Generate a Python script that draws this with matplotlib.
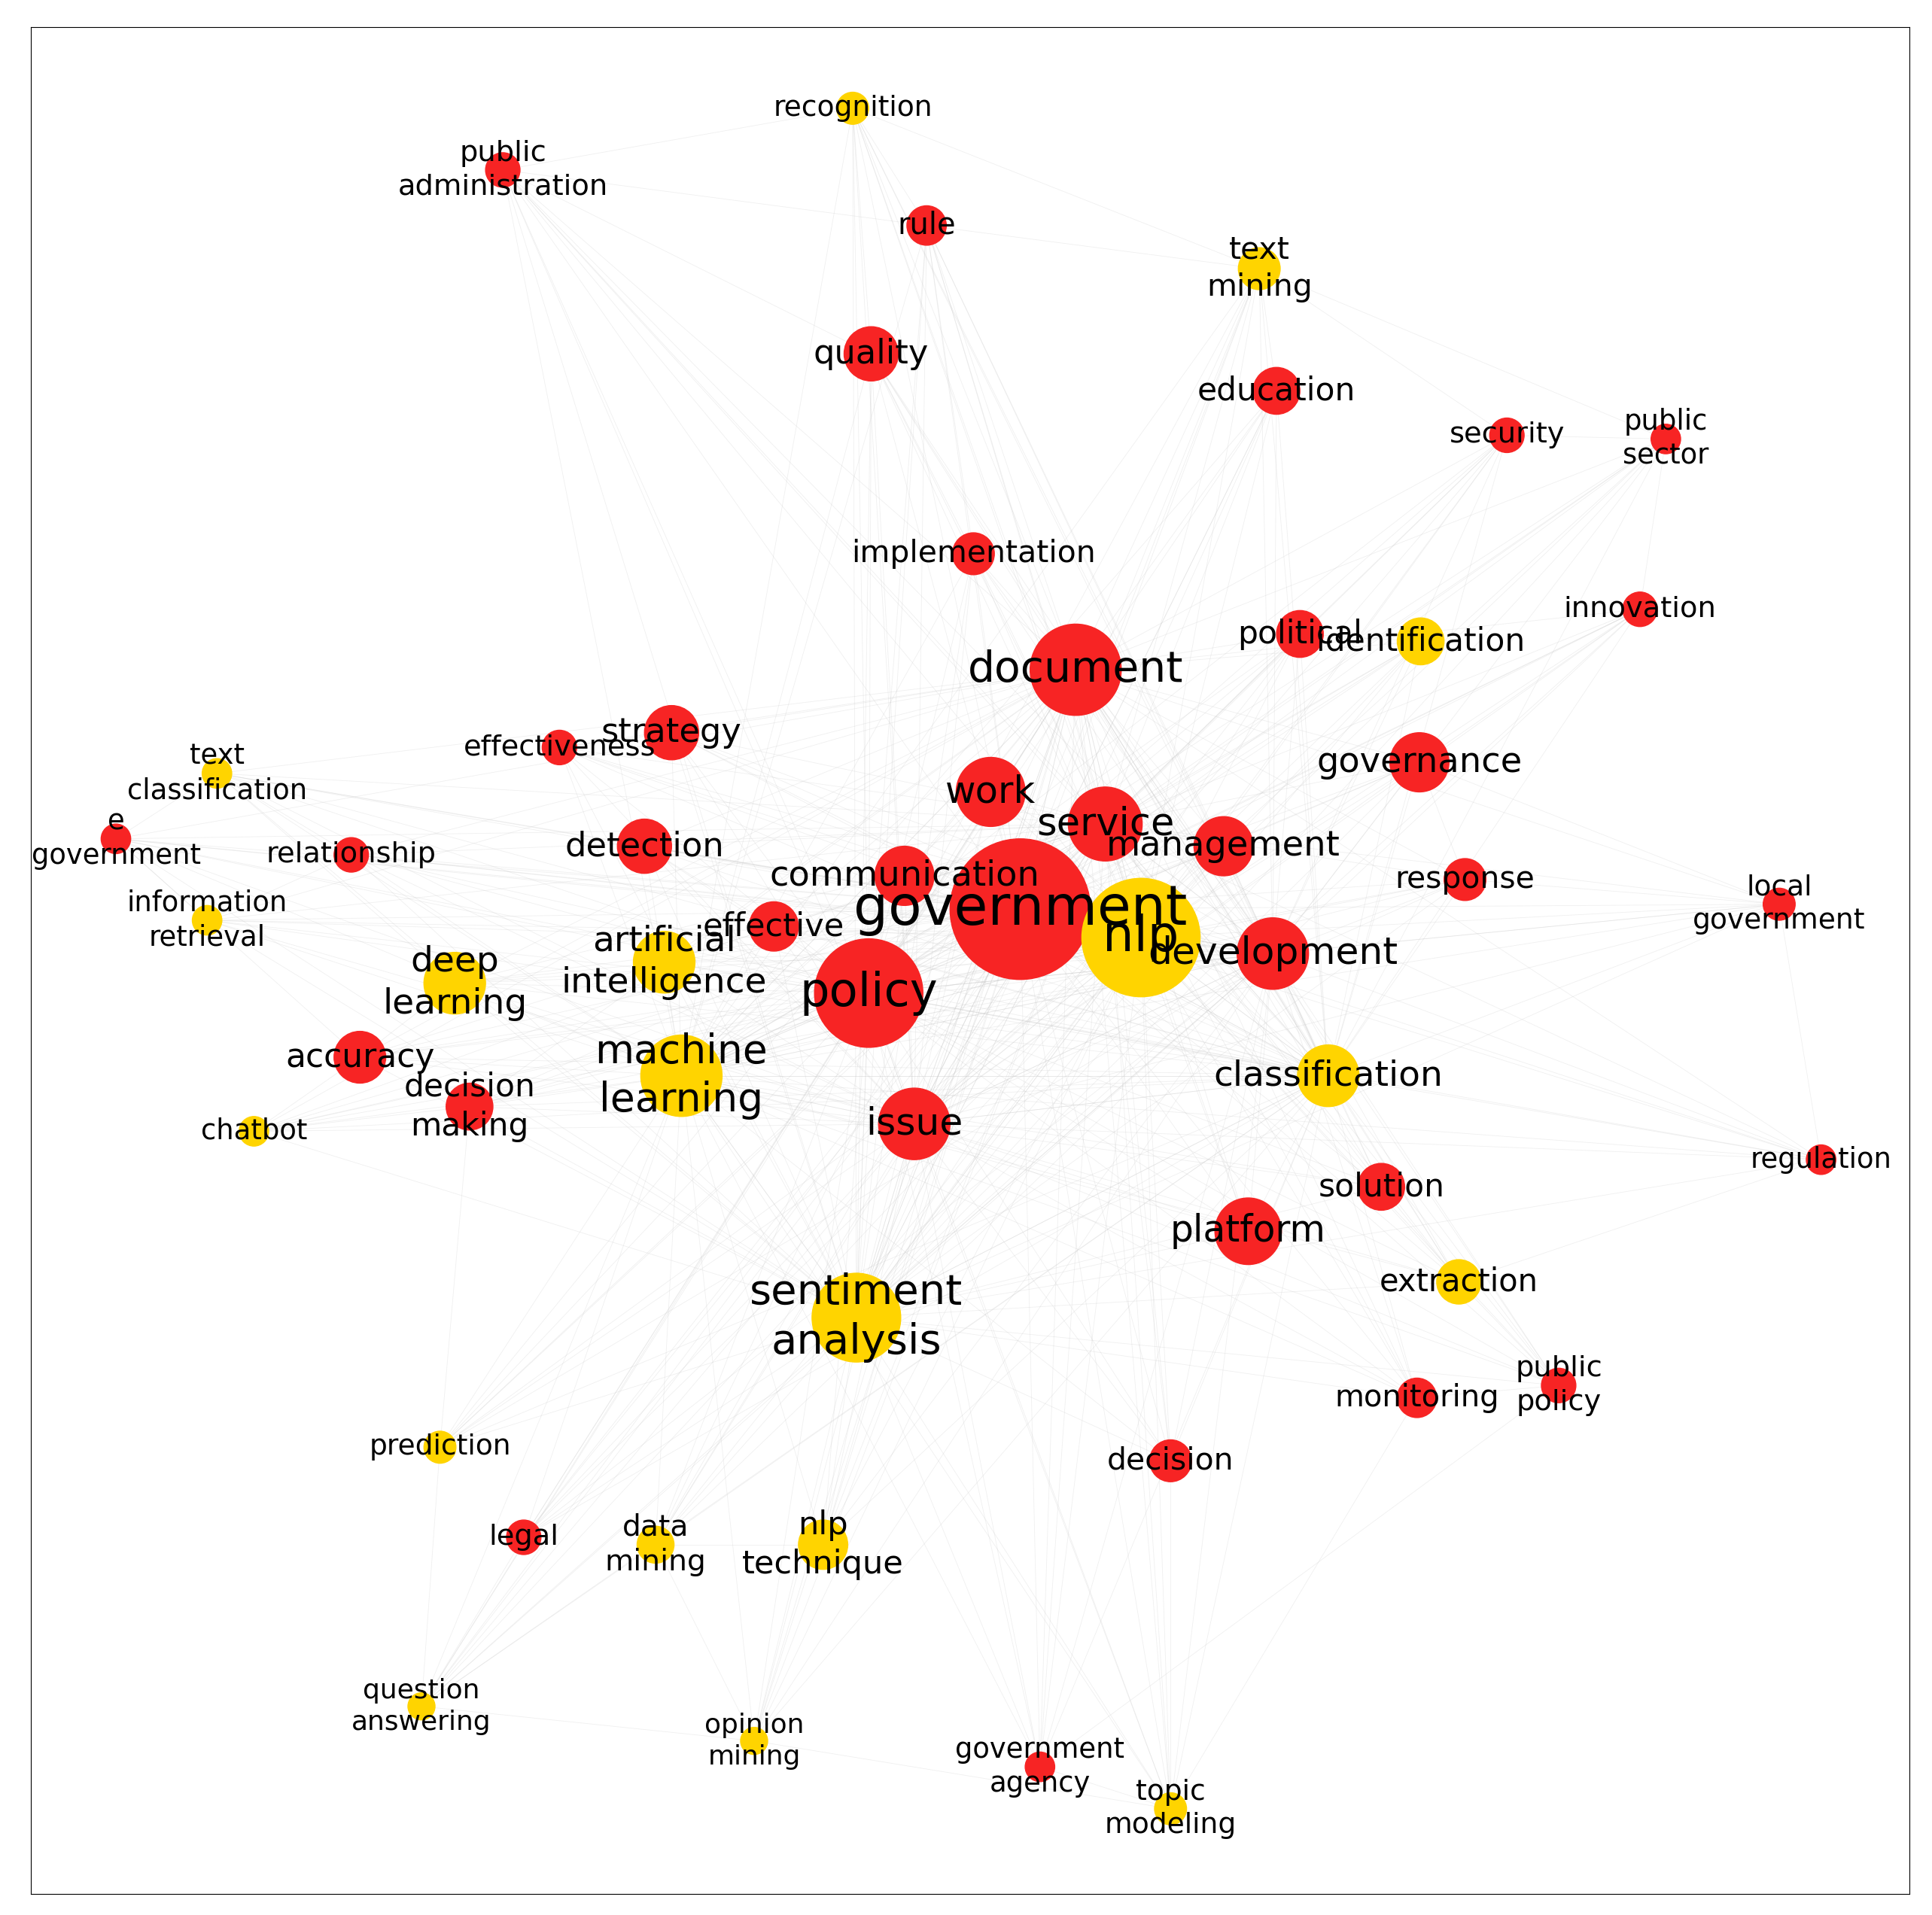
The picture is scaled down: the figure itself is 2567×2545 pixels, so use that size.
import matplotlib.pyplot as plt
from matplotlib.patches import Circle

# node name, x, y (image px), radius, kind (0 = red topic, 1 = yellow method)
names = ["government", "nlp", "policy", "document", "sentiment\nanalysis", "machine\nlearning",
         "development", "issue", "work", "service", "management", "platform", "classification",
         "governance", "artificial\nintelligence", "deep\nlearning", "communication", "detection",
         "strategy", "quality", "education", "political", "identification", "effective",
         "accuracy", "decision\nmaking", "response", "solution", "extraction", "monitoring",
         "decision", "implementation", "nlp\ntechnique", "data\nmining", "legal", "prediction",
         "rule", "text\nmining", "recognition", "public\nadministration", "security",
         "public\nsector", "innovation", "local\ngovernment", "regulation", "public\npolicy",
         "government\nagency", "topic\nmodeling", "opinion\nmining", "question\nanswering",
         "chatbot", "text\nclassification", "e\ngovernment", "relationship", "effectiveness",
         "information\nretrieval"]
xs = [828, 926, 705, 873, 695, 553, 1033, 742, 804, 897, 993, 1013, 1078, 1152, 539, 369, 734,
      523, 545, 707, 1036, 1055, 1153, 628, 292, 381, 1189, 1121, 1184, 1150, 950, 790, 668, 532,
      425, 357, 752, 1022, 692, 408, 1223, 1352, 1331, 1444, 1478, 1265, 844, 950, 612, 342, 206,
      176, 94, 285, 454, 168]
ys = [737, 760, 805, 543, 1068, 872, 773, 911, 642, 668, 686, 998, 872, 618, 780, 797, 710, 686,
      594, 287, 317, 514, 520, 751, 857, 897, 713, 962, 1039, 1133, 1184, 449, 1252, 1252, 1246,
      1173, 183, 218, 88, 138, 353, 356, 494, 733, 940, 1123, 1432, 1466, 1411, 1383, 917, 627,
      680, 693, 606, 746]
radii = [57, 48, 44, 37, 36, 33, 29, 29, 28, 30, 24, 27, 25, 24, 25, 25, 24, 22, 22, 22, 19, 19,
         19, 20, 21, 19, 17, 19, 18, 16, 17, 17, 20, 15, 14, 13, 16, 17, 13, 14, 14, 12, 14, 13,
         12, 14, 12, 13, 11, 11, 12, 12, 12, 14, 14, 12]
kinds = [0, 1, 0, 0, 1, 1, 0, 0, 0, 0, 0, 0, 1, 0, 1, 1, 0, 0, 0, 0, 0, 0, 1, 0, 0, 0, 0, 0, 1,
         0, 0, 0, 1, 1, 0, 1, 0, 1, 1, 0, 0, 0, 0, 0, 0, 0, 0, 1, 1, 1, 1, 1, 0, 0, 0, 1]

hubs = [0, 1, 2, 3, 4, 5, 6, 7, 9, 12]
extra_edges = [(38, 36), (38, 19), (38, 37), (38, 39), (39, 19), (39, 36), (37, 20), (37, 40),
               (37, 41), (37, 36), (41, 42), (41, 40), (42, 13), (43, 44), (43, 13), (44, 28),
               (45, 28), (45, 29), (45, 46), (46, 47), (47, 48), (48, 49), (49, 35), (49, 34),
               (49, 33), (50, 24), (50, 25), (51, 52), (51, 53), (52, 55), (55, 53), (54, 18),
               (35, 25), (47, 30), (47, 29), (48, 33), (32, 33), (27, 28), (26, 13), (21, 22),
               (31, 19), (31, 36), (17, 23), (14, 15), (24, 15), (51, 15), (52, 24), (43, 26)]

colors = ["#f72424", "#ffd400"]

fig = plt.figure(figsize=(25.67, 25.45), dpi=100)
ax = fig.add_axes([0.016, 0.011, 0.9725, 0.975])

for h in hubs:
    for j in range(len(names)):
        if j != h:
            ax.plot([xs[h], xs[j]], [ys[h], ys[j]], color="#cccccc", lw=0.6, alpha=0.3, zorder=1)
for a, b in extra_edges:
    ax.plot([xs[a], xs[b]], [ys[a], ys[b]], color="#cccccc", lw=0.6, alpha=0.3, zorder=1)

for i in range(len(names)):
    ax.add_patch(Circle((xs[i], ys[i]), radii[i], color=colors[kinds[i]], zorder=2))
for i in range(len(names)):
    fs = (13 + 0.38 * radii[i]) * 1.18 * 1.28
    ax.text(xs[i], ys[i], names[i], ha="center", va="center", fontsize=fs,
            linespacing=1.3, zorder=3)

ax.set_xlim(25, 1550)
ax.set_ylim(1535, 22)
ax.set_xticks([])
ax.set_yticks([])
fig.savefig("out.png")
